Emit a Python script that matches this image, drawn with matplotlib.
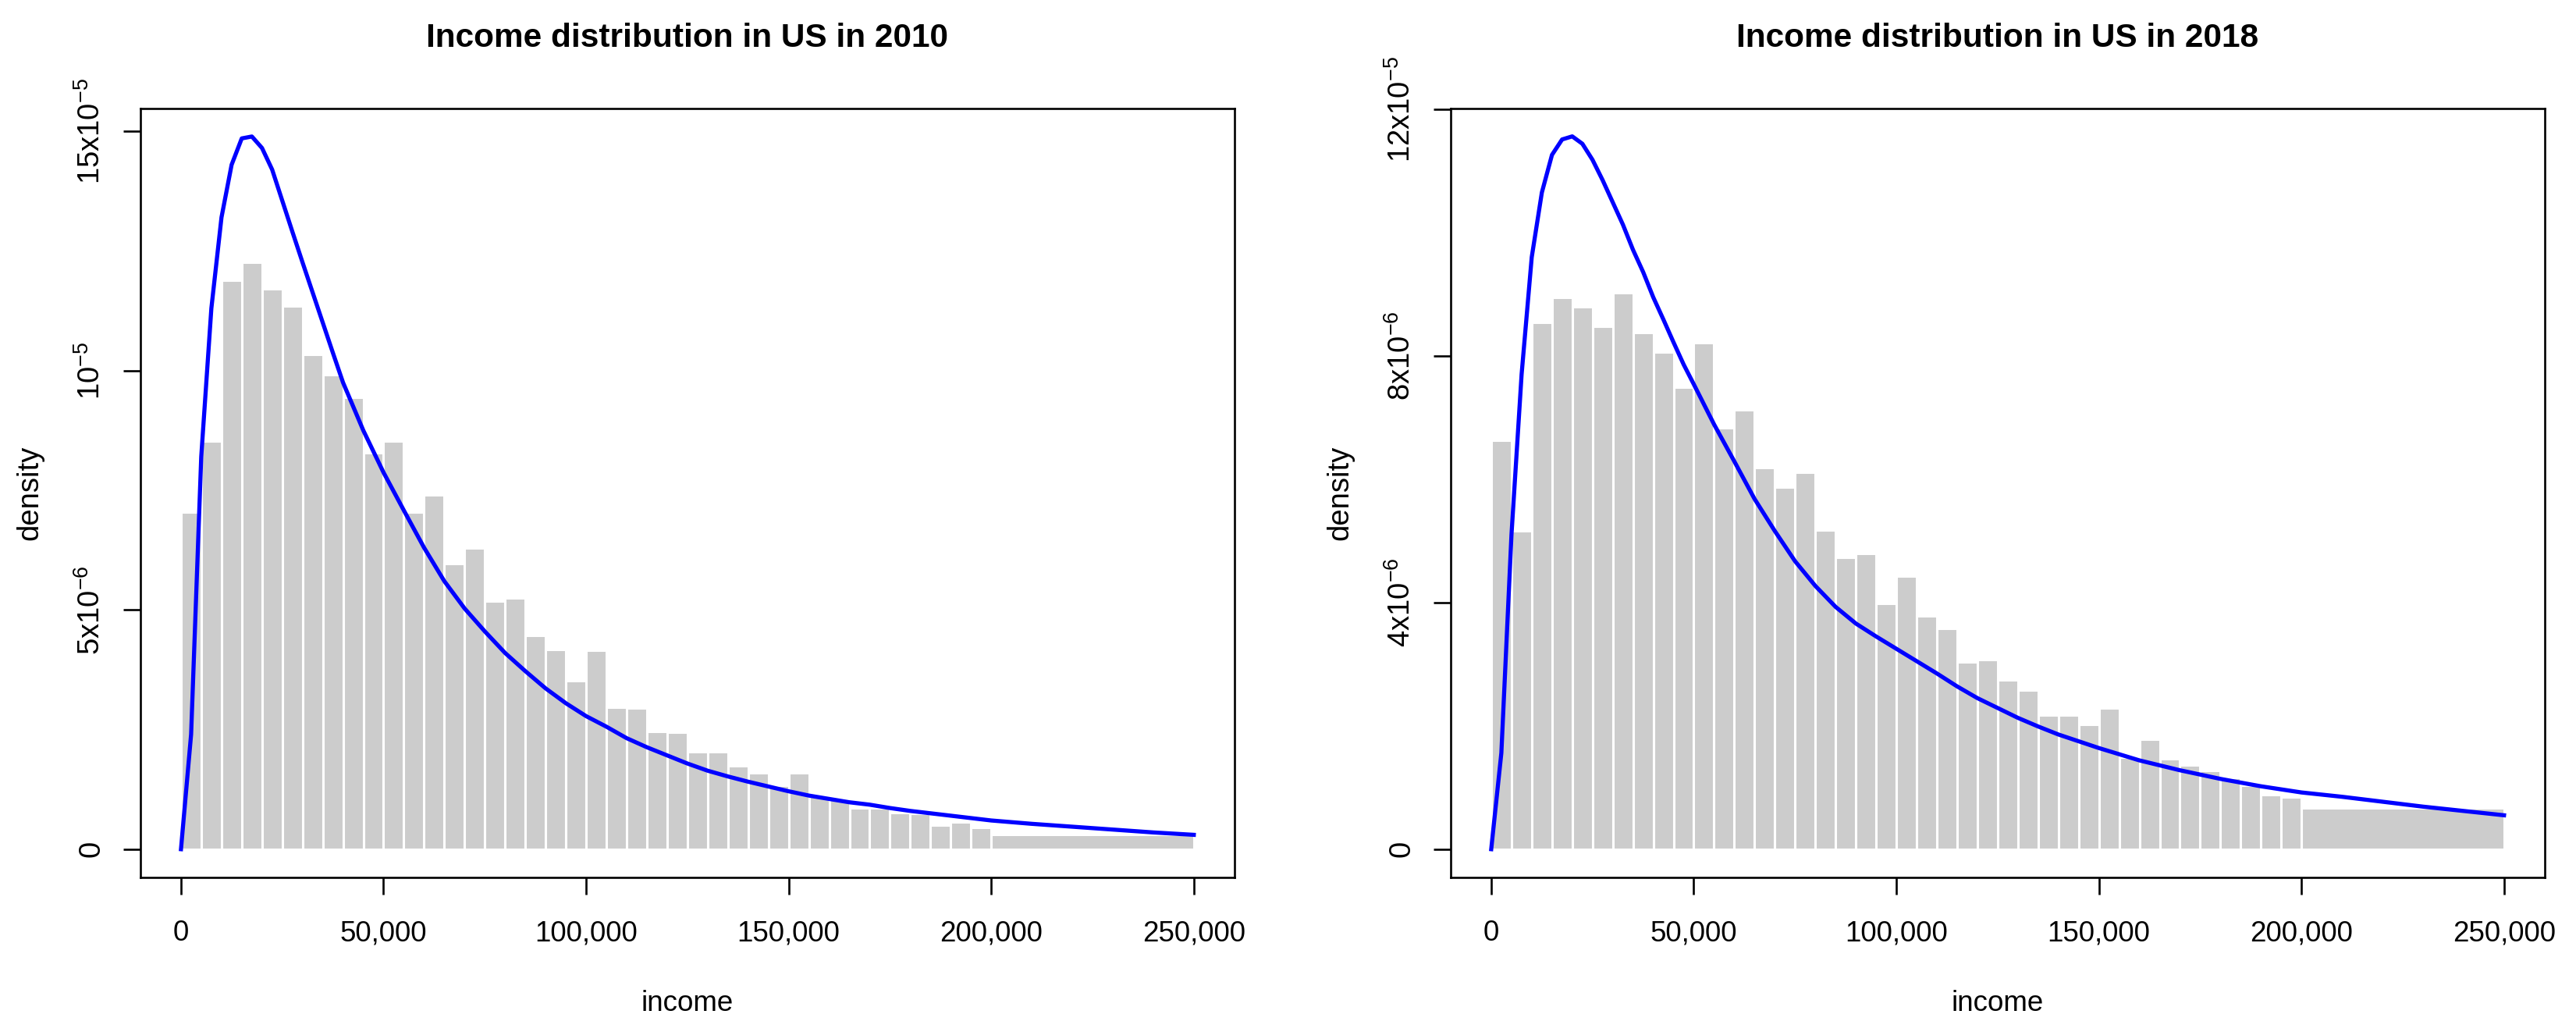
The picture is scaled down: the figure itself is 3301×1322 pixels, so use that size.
import matplotlib
matplotlib.use('Agg')
import matplotlib.pyplot as plt
from matplotlib import font_manager


def has_font(name):
    try:
        font_manager.findfont(font_manager.FontProperties(family=name),
                              fallback_to_default=False)
        return True
    except Exception:
        return False


HAS_NARROW = has_font('Liberation Sans Narrow')
NARROW = 'Liberation Sans Narrow' if HAS_NARROW else 'Liberation Sans'
REG = 'Liberation Sans'
H_SIZE = 30 if HAS_NARROW else 26.5
T_SIZE = 35 if HAS_NARROW else 30.5

plt.rcParams['font.family'] = [REG, 'DejaVu Sans']
plt.rcParams['mathtext.fontset'] = 'custom'
plt.rcParams['mathtext.rm'] = REG
plt.rcParams['mathtext.it'] = REG + ':italic'
plt.rcParams['mathtext.bf'] = REG + ':bold'

# ---------------- data ----------------
titles = ['Income distribution in US in 2010', 'Income distribution in US in 2018']

bin_edges = [0, 5000, 10000, 15000, 20000, 25000, 30000, 35000, 40000, 45000,
             50000, 55000, 60000, 65000, 70000, 75000, 80000, 85000, 90000, 95000,
             100000, 105000, 110000, 115000, 120000, 125000, 130000, 135000, 140000,
             145000, 150000, 155000, 160000, 165000, 170000, 175000, 180000, 185000,
             190000, 195000, 200000, 250000]

# histogram densities (x 1e-6)
dens_2010 = [7.04, 8.53, 11.89, 12.26, 11.71, 11.35, 10.34, 9.91, 9.44, 8.29,
             8.53, 7.04, 7.40, 5.97, 6.29, 5.19, 5.25, 4.46, 4.18, 3.52,
             4.15, 2.96, 2.95, 2.46, 2.44, 2.04, 2.04, 1.74, 1.60, 1.33,
             1.60, 1.12, 1.05, 0.86, 0.86, 0.77, 0.74, 0.51, 0.56, 0.45,
             0.30]
dens_2018 = [6.63, 5.16, 8.54, 8.95, 8.80, 8.48, 9.03, 8.38, 8.06, 7.49,
             8.21, 6.84, 7.13, 6.19, 5.87, 6.11, 5.17, 4.73, 4.79, 3.98,
             4.43, 3.78, 3.58, 3.03, 3.08, 2.74, 2.58, 2.18, 2.17, 2.02,
             2.29, 1.49, 1.78, 1.47, 1.37, 1.27, 1.16, 1.03, 0.88, 0.84,
             0.67]

# fitted density curves (x 1e-6)
curve_x_2010 = [0, 2500, 5000, 7500, 10000, 12500, 15000, 17500, 20000, 22500,
                25000, 27500, 30000, 32500, 35000, 37500, 40000, 42500, 45000,
                50000, 55000, 60000, 65000, 70000, 75000, 80000, 85000, 90000,
                95000, 100000, 105000, 110000, 115000, 120000, 125000, 130000,
                135000, 140000, 145000, 150000, 155000, 160000, 165000, 170000,
                175000, 180000, 185000, 190000, 195000, 200000, 210000, 220000,
                230000, 240000, 250000]
curve_y_2010 = [0, 2.4, 8.2, 11.3, 13.2, 14.3, 14.85, 14.89, 14.65, 14.2,
                13.55, 12.9, 12.26, 11.63, 11.0, 10.37, 9.75, 9.25, 8.75,
                7.87, 7.08, 6.30, 5.60, 5.03, 4.55, 4.10, 3.72, 3.36,
                3.05, 2.78, 2.56, 2.32, 2.13, 1.96, 1.79, 1.64,
                1.52, 1.41, 1.31, 1.21, 1.12, 1.05, 0.98, 0.93,
                0.86, 0.80, 0.75, 0.70, 0.65, 0.60, 0.53, 0.47,
                0.41, 0.35, 0.30]

curve_x_2018 = [0, 2500, 5000, 7500, 10000, 12500, 15000, 17500, 20000, 22500,
                25000, 27500, 30000, 32500, 35000, 37500, 40000, 42500, 45000,
                47500, 50000, 55000, 60000, 65000, 70000, 75000, 80000, 85000,
                90000, 95000, 100000, 105000, 110000, 115000, 120000, 125000,
                130000, 135000, 140000, 145000, 150000, 155000, 160000, 165000,
                170000, 175000, 180000, 185000, 190000, 195000, 200000, 210000,
                220000, 230000, 240000, 250000]
curve_y_2018 = [0, 1.56, 5.1, 7.7, 9.6, 10.65, 11.26, 11.51, 11.56, 11.44,
                11.18, 10.85, 10.49, 10.13, 9.72, 9.36, 8.95, 8.59, 8.22,
                7.86, 7.54, 6.89, 6.29, 5.68, 5.16, 4.67, 4.27, 3.93,
                3.66, 3.45, 3.25, 3.05, 2.85, 2.64, 2.45, 2.29,
                2.13, 1.99, 1.86, 1.75, 1.64, 1.54, 1.44, 1.36,
                1.28, 1.21, 1.14, 1.08, 1.02, 0.97, 0.92, 0.85,
                0.77, 0.69, 0.62, 0.55]

x_ticks = [0, 50000, 100000, 150000, 200000, 250000]
x_ticklabels = ['0', '50,000', '100,000', '150,000', '200,000', '250,000']

y_ticks_2010 = [0, 5e-6, 10e-6, 15e-6]
y_ticklabels_2010 = ['0', r'5x10$^{-6}$', r'10$^{-5}$', r'15x10$^{-5}$']
y_ticks_2018 = [0, 4e-6, 8e-6, 12e-6]
y_ticklabels_2018 = ['0', r'4x10$^{-6}$', r'8x10$^{-6}$', r'12x10$^{-5}$']

ylims = [(-0.595e-6, 15.47e-6), (-0.462e-6, 12.008e-6)]

# ---------------- figure ----------------
W, H = 3301, 1322
DPI = 100
fig = plt.figure(figsize=(W / DPI, H / DPI), dpi=DPI)

ax_h = (1124.3 - 139.3) / H
ax_w = 1401.7 / W
ax_b = 1 - 1124.3 / H
lefts = [180 / W, 1859 / W]

panels = [
    (dens_2010, curve_x_2010, curve_y_2010, y_ticks_2010, y_ticklabels_2010),
    (dens_2018, curve_x_2018, curve_y_2018, y_ticks_2018, y_ticklabels_2018),
]

for i, (dens, cx, cy, yt, ytl) in enumerate(panels):
    ax = fig.add_axes([lefts[i], ax_b, ax_w, ax_h])
    lefts_bins = bin_edges[:-1]
    widths = [bin_edges[k + 1] - bin_edges[k] for k in range(len(bin_edges) - 1)]
    heights = [d * 1e-6 for d in dens]
    ax.bar(lefts_bins, heights, width=widths, align='edge', color='#cccccc',
           edgecolor='white', linewidth=2.2, zorder=2)
    ax.plot(cx, [v * 1e-6 for v in cy], color='#0000ff', linewidth=3.8,
            zorder=3)

    ax.set_xlim(-10000, 260000)
    ax.set_ylim(*ylims[i])
    for sp in ax.spines.values():
        sp.set_linewidth(1.9)
        sp.set_color('black')

    ax.set_xticks(x_ticks)
    ax.set_xticklabels(x_ticklabels, fontfamily=NARROW, fontsize=H_SIZE)
    ax.set_yticks(yt)
    ax.set_yticklabels(ytl, fontsize=27.5, rotation=90, va='center', ha='right')
    ax.tick_params(axis='both', direction='out', length=15.8, width=1.9,
                   color='black')
    ax.tick_params(axis='x', pad=23)
    ax.tick_params(axis='y', pad=16)

    ax.set_title(titles[i], fontfamily=NARROW, fontweight='bold', fontsize=T_SIZE,
                 pad=57)
    ax.set_xlabel('income', fontfamily=NARROW, fontsize=H_SIZE)
    ax.xaxis.set_label_coords(0.5, -0.1454)
    ax.set_ylabel('density', fontsize=27.5)
    ax.yaxis.set_label_coords(-0.0885, 0.5)

fig.savefig('out.png', dpi=DPI, facecolor='white')
